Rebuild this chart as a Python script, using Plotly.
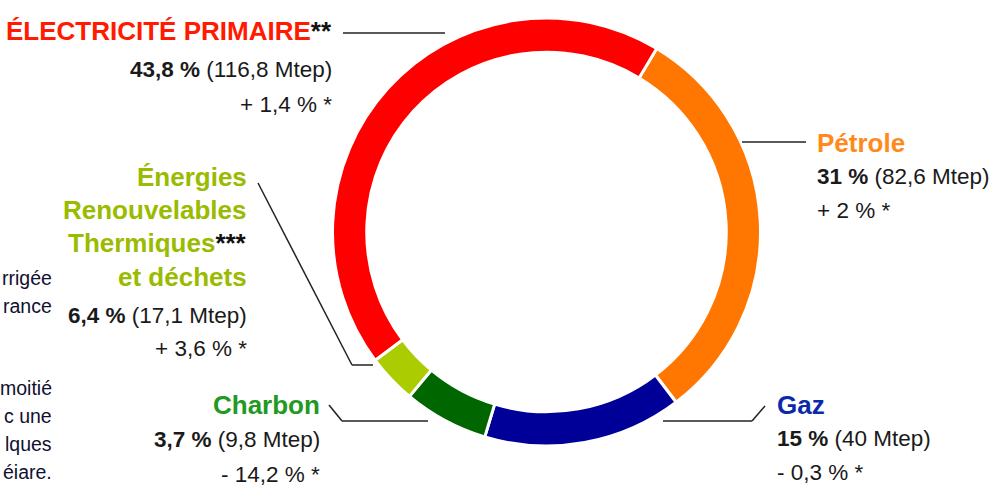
import plotly.graph_objects as go

# Ring slices, clockwise from the top-right (order & colours as drawn in the picture)
slice_names = ["Pétrole", "Gaz", "Énergies Renouvelables Thermiques et déchets", "Charbon", "Électricité primaire"]
slice_values = [31.0, 15.0, 6.4, 3.7, 43.8]
slice_colors = ["#FF7600", "#000099", "#006600", "#AACC00", "#FF0000"]

# Label texts
elec_lines = ["<b>ÉLECTRICITÉ PRIMAIRE</b><b><span style='color:#111'>**</span></b>",
              "<b>43,8 %</b> (116,8 Mtep)", "+ 1,4 % *"]
petrole_lines = ["<b>Pétrole</b>", "<b>31 %</b> (82,6 Mtep)", "+ 2 % *"]
enr_lines = ["<b>Énergies</b>", "<b>Renouvelables</b>",
             "<b>Thermiques</b><b><span style='color:#111'>***</span></b>", "<b>et déchets</b>",
             "<b>6,4 %</b> (17,1 Mtep)", "+ 3,6 % *"]
charbon_lines = ["<b>Charbon</b>", "<b>3,7 %</b> (9,8 Mtep)", "- 14,2 % *"]
gaz_lines = ["<b>Gaz</b>", "<b>15 %</b> (40 Mtep)", "- 0,3 % *"]
side_text = ["rrigée", "rance", "moitié", "c une", "lques", "éiare."]

W, H = 991, 488
FONT = "Arial, Liberation Sans, sans-serif"


def px(x):
    return x / W


def py(y):
    return 1 - y / H


cx, cy, r = 546.5, 232, 214

fig = go.Figure(go.Pie(
    labels=slice_names, values=slice_values, sort=False, direction="clockwise",
    rotation=31, hole=0.84, textinfo="none", showlegend=False,
    marker=dict(colors=slice_colors, line=dict(color="white", width=3)),
    domain=dict(x=[px(cx - r), px(cx + r)], y=[py(cy + r), py(cy - r)]),
))

annotations = []


def add_block(lines, x, ys, anchor, title_color, n_title):
    for i, (t, y) in enumerate(zip(lines, ys)):
        is_title = i < n_title
        annotations.append(dict(
            x=px(x), y=py(y), xref="paper", yref="paper", text=t, showarrow=False,
            xanchor=anchor, yanchor="middle", borderpad=0,
            font=dict(family=FONT, size=26 if is_title else 22.5,
                      color=title_color if is_title else "#1a1a1a"),
        ))


add_block(elec_lines, 333, [31, 69, 104], "right", "#FF1A00", 1)
add_block(petrole_lines, 816, [143, 177, 211], "left", "#FF8A1A", 1)
add_block(enr_lines, 248, [177, 210, 243, 277, 315, 348], "right", "#99BB00", 4)
add_block(charbon_lines, 321, [405, 439, 474], "right", "#229922", 1)
add_block(gaz_lines, 776, [405, 438, 472], "left", "#0A2AAA", 1)

for t, y in zip(side_text, [278, 306, 388, 416, 444, 472]):
    annotations.append(dict(
        x=px(53), y=py(y), xref="paper", yref="paper", text=t, showarrow=False,
        xanchor="right", yanchor="middle", borderpad=0,
        font=dict(family=FONT, size=19.5, color="#101030"),
    ))

line_style = dict(color="#222222", width=1.5)
leaders = [
    [(343, 33), (445, 33)],
    [(742, 142), (806, 142)],
    [(258, 183), (352, 365), (373, 365)],
    [(329, 405), (342, 421), (428, 421)],
    [(663, 421), (752, 421), (765, 406)],
]
shapes = []
for pts in leaders:
    for (x0, y0), (x1, y1) in zip(pts[:-1], pts[1:]):
        shapes.append(dict(type="line", xref="paper", yref="paper",
                           x0=px(x0), y0=py(y0), x1=px(x1), y1=py(y1), line=line_style))

fig.update_layout(
    width=W, height=H, margin=dict(l=0, r=0, t=0, b=0),
    paper_bgcolor="white", plot_bgcolor="white",
    annotations=annotations, shapes=shapes,
)

fig.write_html("out.html")
